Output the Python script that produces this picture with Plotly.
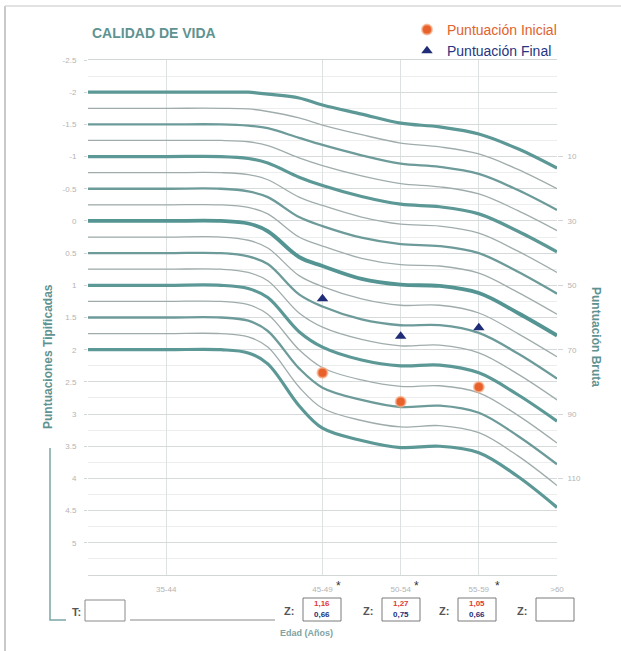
import plotly.graph_objects as go

# ---- chart data -----------------------------------------------------------
# Age axis positions (0 = left edge, 1 = first group, 3..6 = later groups)
age_pos = [0, 1, 1.7, 2.05, 2.3, 2.7, 3.0, 3.5, 4.0, 4.5, 5.0, 5.5, 6.0]
age_tick_pos = [1, 3, 4, 5, 6]
age_tick_text = ["35-44", "45-49", "50-54", "55-59", ">60"]

# Normative curves (standard score), one list per reference level
curve_levels = [-2.0, -1.75, -1.5, -1.25, -1.0, -0.75, -0.5, -0.25, 0.0,
                0.25, 0.5, 0.75, 1.0, 1.25, 1.5, 1.75, 2.0]
c_m200 = [-2.00, -2.00, -2.00, -2.00, -1.97, -1.91, -1.80, -1.66, -1.52, -1.46, -1.35, -1.12, -0.82]
c_m175 = [-1.75, -1.75, -1.75, -1.74, -1.70, -1.60, -1.49, -1.34, -1.21, -1.15, -1.04, -0.80, -0.50]
c_m150 = [-1.50, -1.50, -1.50, -1.48, -1.44, -1.29, -1.18, -1.02, -0.89, -0.84, -0.73, -0.48, -0.17]
c_m125 = [-1.25, -1.25, -1.25, -1.23, -1.17, -0.98, -0.86, -0.70, -0.58, -0.53, -0.42, -0.16, 0.15]
c_m100 = [-1.00, -1.00, -1.00, -0.97, -0.90, -0.68, -0.55, -0.38, -0.26, -0.22, -0.11, 0.16, 0.48]
c_m075 = [-0.75, -0.75, -0.75, -0.72, -0.64, -0.37, -0.24, -0.06, 0.05, 0.08, 0.19, 0.47, 0.80]
c_m050 = [-0.50, -0.50, -0.50, -0.46, -0.37, -0.06, 0.08, 0.26, 0.36, 0.39, 0.50, 0.79, 1.13]
c_m025 = [-0.25, -0.25, -0.25, -0.21, -0.11, 0.25, 0.39, 0.58, 0.68, 0.70, 0.81, 1.11, 1.45]
c_p000 = [0.00, 0.00, 0.00, 0.04, 0.16, 0.56, 0.70, 0.90, 0.99, 1.01, 1.12, 1.43, 1.78]
c_p025 = [0.25, 0.25, 0.25, 0.30, 0.42, 0.85, 1.02, 1.21, 1.31, 1.31, 1.43, 1.75, 2.11]
c_p050 = [0.50, 0.50, 0.50, 0.55, 0.67, 1.14, 1.33, 1.53, 1.62, 1.62, 1.74, 2.06, 2.45]
c_p075 = [0.75, 0.75, 0.75, 0.80, 0.93, 1.43, 1.65, 1.84, 1.94, 1.93, 2.05, 2.38, 2.78]
c_p100 = [1.00, 1.00, 1.00, 1.05, 1.19, 1.72, 1.96, 2.16, 2.25, 2.24, 2.36, 2.70, 3.11]
c_p125 = [1.25, 1.25, 1.25, 1.30, 1.45, 2.00, 2.28, 2.47, 2.57, 2.56, 2.67, 3.02, 3.45]
c_p150 = [1.50, 1.50, 1.50, 1.55, 1.71, 2.29, 2.59, 2.78, 2.89, 2.87, 2.98, 3.34, 3.78]
c_p175 = [1.75, 1.75, 1.75, 1.80, 1.96, 2.58, 2.91, 3.10, 3.20, 3.18, 3.29, 3.65, 4.11]
c_p200 = [2.00, 2.00, 2.00, 2.05, 2.22, 2.87, 3.22, 3.41, 3.52, 3.50, 3.60, 3.97, 4.45]
curves = [c_m200, c_m175, c_m150, c_m125, c_m100, c_m075, c_m050, c_m025, c_p000,
          c_p025, c_p050, c_p075, c_p100, c_p125, c_p150, c_p175, c_p200]

# Patient scores
score_pos = [3, 4, 5]
initial_scores = [2.36, 2.81, 2.58]
final_scores = [1.21, 1.79, 1.66]

# Z values written in the boxes under each age group
z_initial_text = ["1,16", "1,27", "1,05", ""]
z_final_text = ["0,66", "0,75", "0,66", ""]

# Axis tick labels
left_tick_vals = [-2.5, -2, -1.5, -1, -0.5, 0, 0.5, 1, 1.5, 2, 2.5, 3, 3.5, 4, 4.5, 5]
left_tick_text = ["-2.5", "-2", "-1.5", "-1", "-0.5", "0", "0.5", "1", "1.5", "2",
                  "2.5", "3", "3.5", "4", "4.5", "5"]
right_tick_vals = [-1, 0, 1, 2, 3, 4]
right_tick_text = ["10", "30", "50", "70", "90", "110"]

# ---- layout geometry (pixels of the 621x651 page) ---------------------------
W, H = 621, 651
L, R, T, B = 88, 557, 60, 575


def px(x):
    return (x - L) / (R - L)


def py(y):
    return (B - y) / (B - T)


TEAL = "#5f9391"
fig = go.Figure()

for lvl, ys in zip(curve_levels, curves):
    if lvl == 0:
        w, col = 3.8, "#549593"
    elif float(lvl).is_integer():
        w, col = 3.2, "#5b9896"
    elif (lvl * 2).is_integer():
        w, col = 2.3, "#6d9b9a"
    else:
        w, col = 1.3, "#a0acac"
    fig.add_trace(go.Scatter(
        x=age_pos, y=ys, mode="lines",
        line=dict(color=col, width=w, shape="spline", smoothing=1.0),
        showlegend=False, hoverinfo="skip"))

fig.add_trace(go.Scatter(
    x=score_pos, y=initial_scores, mode="markers",
    name='<span style="color:#e0622e">Puntuación Inicial</span>',
    marker=dict(symbol="circle", size=10, color="#e8602a",
                line=dict(color="rgba(245,175,140,0.7)", width=2))))
fig.add_trace(go.Scatter(
    x=score_pos, y=final_scores, mode="markers",
    name='<span style="color:#26357f">Puntuación Final</span>',
    marker=dict(symbol="triangle-up", size=10, color="#1f2c78")))

# invisible trace carrying the raw-score axis
fig.add_trace(go.Scatter(x=[0], y=[0], yaxis="y2", mode="markers",
                         marker=dict(opacity=0), showlegend=False, hoverinfo="skip"))

tick_font = dict(family="Liberation Sans, Arial", size=8, color="#b4b4b4")

fig.update_layout(
    width=W, height=H,
    margin=dict(l=L, r=W - R, t=T, b=H - B),
    paper_bgcolor="white", plot_bgcolor="white",
    font=dict(family="Liberation Sans, Arial"),
    showlegend=True,
    legend=dict(x=px(407), y=py(14), xanchor="left", yanchor="top",
                font=dict(size=14, family="Liberation Sans, Arial"),
                bgcolor="rgba(0,0,0,0)", tracegroupgap=0),
    xaxis=dict(range=[0, 6], tickmode="array", tickvals=age_tick_pos,
               ticktext=age_tick_text, tickfont=tick_font, ticks="",
               ticklabelstandoff=6,
               showgrid=True, gridcolor="#dde1e1", gridwidth=1,
               showline=True, linecolor="#d2d6d6", linewidth=1, mirror=True,
               zeroline=False),
    yaxis=dict(range=[5.5, -2.5], tickmode="array", tickvals=left_tick_vals,
               ticktext=left_tick_text, tickfont=tick_font,
               ticks="outside", ticklen=3, tickcolor="#d2d6d6",
               ticklabelstandoff=6,
               showgrid=True, gridcolor="#d6dada", gridwidth=1,
               minor=dict(tickvals=[-2.25 + 0.5 * i for i in range(16)],
                          showgrid=True, gridcolor="#eceeee", ticks=""),
               showline=False, zeroline=False),
    yaxis2=dict(range=[5.5, -2.5], overlaying="y", side="right",
                tickmode="array", tickvals=right_tick_vals,
                ticktext=right_tick_text, tickfont=tick_font,
                ticks="outside", ticklen=5, tickcolor="#d2d6d6",
                ticklabelstandoff=3, showgrid=False, zeroline=False,
                showline=False),
)

ann = []
shapes = []

# title and axis titles
ann.append(dict(text="<b>CALIDAD DE VIDA</b>", x=px(90), y=py(33), xanchor="left",
                yanchor="middle", font=dict(size=14, color=TEAL)))
ann.append(dict(text="<b>Puntuaciones Tipificadas</b>", x=px(48), y=py(357),
                textangle=-90, xanchor="center", yanchor="middle",
                font=dict(size=12, color=TEAL)))
ann.append(dict(text="<b>Puntuación Bruta</b>", x=px(596), y=py(337),
                textangle=90, xanchor="center", yanchor="middle",
                font=dict(size=12, color=TEAL)))
ann.append(dict(text="<b>Edad (Años)</b>", x=px(306), y=py(633),
                xanchor="center", yanchor="middle",
                font=dict(size=9, color="#7fa3a2")))

# bracket from the left title down to the T box
shapes.append(dict(type="path", xref="paper", yref="paper",
                   path=f"M {px(50)} {py(448)} L {px(50)} {py(620)} L {px(66)} {py(620)}",
                   line=dict(color="#7aa6a5", width=1.5)))
ann.append(dict(text="<b>T:</b>", x=px(76), y=py(612), xanchor="center",
                yanchor="middle", font=dict(size=11, color="#555")))
shapes.append(dict(type="rect", xref="paper", yref="paper",
                   x0=px(85), x1=px(125), y0=py(600), y1=py(621),
                   line=dict(color="#8a8a8a", width=1)))
shapes.append(dict(type="line", xref="paper", yref="paper",
                   x0=px(130), x1=px(275), y0=py(620), y1=py(620),
                   line=dict(color="#8a8a8a", width=1.2)))

# Z boxes under each age group
box_left = [303, 382, 458, 536]
for i, bx in enumerate(box_left):
    shapes.append(dict(type="rect", xref="paper", yref="paper",
                       x0=px(bx), x1=px(bx + 38), y0=py(598), y1=py(621),
                       line=dict(color="#7a7a7a", width=1)))
    ann.append(dict(text="<b>Z:</b>", x=px(bx - 14), y=py(611), xanchor="center",
                    yanchor="middle", font=dict(size=11, color="#555")))
    if z_initial_text[i]:
        ann.append(dict(text="<b>" + z_initial_text[i] + "</b>", x=px(bx + 19),
                        y=py(604), xanchor="center", yanchor="middle",
                        font=dict(size=8, color="#e03a3a")))
    if z_final_text[i]:
        ann.append(dict(text="<b>" + z_final_text[i] + "</b>", x=px(bx + 19),
                        y=py(614), xanchor="center", yanchor="middle",
                        font=dict(size=8, color="#23307a")))

# asterisks marking significant changes
for ax_ in [338, 416, 497]:
    ann.append(dict(text="*", x=px(ax_), y=py(586), xanchor="center",
                    yanchor="middle", font=dict(size=12, color="#333333")))

# page frame (left and top edges)
shapes.append(dict(type="line", xref="paper", yref="paper",
                   x0=px(5), x1=px(5), y0=py(6), y1=py(651),
                   line=dict(color="#c9c9c9", width=2)))
shapes.append(dict(type="line", xref="paper", yref="paper",
                   x0=px(5), x1=px(621), y0=py(6), y1=py(6),
                   line=dict(color="#d9d9d9", width=1.5)))

for a in ann:
    a.setdefault("xref", "paper")
    a.setdefault("yref", "paper")
    a.setdefault("showarrow", False)

fig.update_layout(annotations=ann, shapes=shapes)
fig.write_html("out.html")
